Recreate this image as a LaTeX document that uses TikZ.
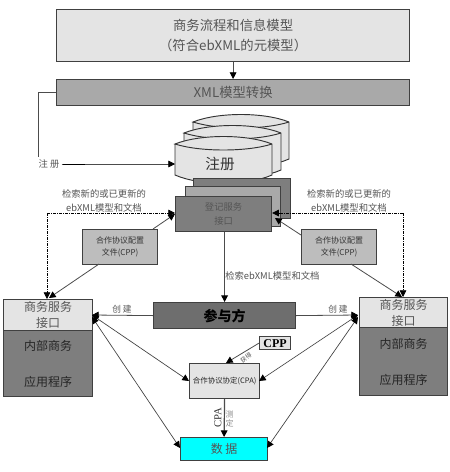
\documentclass[tikz,border=0pt]{standalone}
\usepackage{fontspec}
\setmainfont{Noto Sans CJK SC}
\newfontfamily\latinf{Liberation Serif}
\usetikzlibrary{arrows.meta}
\definecolor{lt}{HTML}{E4E4E4}
\definecolor{md}{HTML}{A9A9A9}
\definecolor{cp}{HTML}{BDBDBD}
\definecolor{dk}{HTML}{7E7E7E}
\definecolor{pa}{HTML}{6E6E6E}
\definecolor{tx}{HTML}{555555}
\definecolor{aq}{HTML}{00FFFF}
\tikzset{
 x=0.75pt,y=-0.75pt,
 tipk/.tip={Triangle[length=5pt,width=5pt,color=black]},
 boxn/.style={draw=black!75,line width=0.9pt,inner sep=0,align=center,text=tx},
 lab/.style={text=tx,inner sep=0,align=center,font=\fontsize{7}{10}\selectfont},
 con/.style={draw=black!70,line width=0.6pt,-tipk},
 dbl/.style={draw=black!75,line width=0.5pt,tipk-tipk},
 dd/.style={draw=black,line width=0.6pt,dash pattern=on 2pt off 1pt on 0.5pt off 1pt},
}
\newcommand{\boxat}[6]{\node[boxn,fill=#5,minimum width=#3*0.75pt,minimum height=#4*0.75pt,anchor=north west] (#6) at (#1,#2) {};}
\newcommand{\cyl}[5]{% x1 x2 ytop ybot name
 \draw[draw=black!80,fill=#5,line width=0.7pt] (#1,#3) -- (#1,#4) .. controls ({#1+25},{#4+11}) and ({#2-25},{#4+11}) .. (#2,#4) -- (#2,#3) .. controls ({#2-25},{#3-10}) and ({#1+25},{#3-10}) .. (#1,#3) .. controls ({#1+25},{#3+8}) and ({#2-25},{#3+8}) .. (#2,#3);}
\begin{document}
\begin{tikzpicture}
\path[use as bounding box,fill=white] (0,0) rectangle (450,472);
% top
\boxat{56}{9}{353}{52}{lt}{top}
\node[lab,font=\fontsize{10}{15}\selectfont] at (top.center) {商务流程和信息模型\\（符合ebXML的元模型）};
\boxat{56}{79}{353}{26}{md}{xml}
\node[lab,font=\fontsize{10}{12}\selectfont] at (xml.center) {XML模型转换};
\draw[con] (top.south) -- (xml.north);
% register
\cyl{193}{289}{122}{159}{lt}
\cyl{184}{281}{133}{170}{lt}
\cyl{175}{272}{144}{175}{lt}
\node[lab,font=\fontsize{11}{12}\selectfont,text=black!80] at (220,164) {注册};
\node[lab] (rl) at (49,164) {注 册};
\coordinate (rk) at (38,157);
\draw[draw=black!70,line width=0.6pt] (xml.west |- 0,92) -- (38,92) -- (rk);
\draw[con] (rl.east) ++(2,0) -- (175,164);
\draw[line width=1.2pt] (63,164.5) -- (85,164.5);
% service
\boxat{193}{178}{97}{40}{dk}{s3}
\boxat{185}{186}{95}{40}{md}{s2}
\boxat{175}{196}{96}{35}{dk}{svc}
\node[lab] at (svc.center) {登记服务\\接口};
% cpp boxes
\boxat{82}{229}{75}{35}{cp}{cl}
\node[lab,font=\fontsize{6}{9}\selectfont,text=black!80] at (cl.center) {合作协议配置\\文件(CPP)};
\boxat{301}{229}{75}{35}{cp}{cr}
\node[lab,font=\fontsize{6}{9}\selectfont,text=black!80] at (cr.center) {合作协议配置\\文件(CPP)};
% BSI
\boxat{3}{299}{89}{31}{lt}{la}
\node[lab,font=\fontsize{9}{12}\selectfont] at (la.center) {商务服务\\接口};
\boxat{3}{330}{89}{66}{dk}{lb}
\node[lab,font=\fontsize{9}{27}\selectfont,text=black!85] at (lb.center) {内部商务\\应用程序};
\boxat{359}{297}{88}{30}{lt}{ra}
\node[lab,font=\fontsize{9}{12}\selectfont] at (ra.center) {商务服务\\接口};
\boxat{359}{327}{88}{68}{dk}{rb}
\node[lab,font=\fontsize{9}{27}\selectfont,text=black!85] at (rb.center) {内部商务\\应用程序};
% participant
\boxat{153}{302}{142}{26}{pa}{pt}
\node[lab,font=\bfseries\fontsize{10.5}{12}\selectfont,text=black] at (pt.center) {参与方};
% CPP small, CPA, data
\boxat{259}{336}{31}{13}{lt}{cs}
\node[font=\latinf\bfseries\fontsize{9}{11}\selectfont,text=black,inner sep=0] at (cs.center) {CPP};
\boxat{189}{363}{70}{35}{lt}{cpa}
\node[lab,font=\fontsize{5.6}{7}\selectfont,text=black!85] at (cpa.center) {合作协议协定(CPA)};
\boxat{180}{437}{87}{23}{aq}{dat}
\node[lab,font=\fontsize{9}{12}\selectfont] at (dat.center) {数 据};
% dashed
\coordinate (dl) at (47,213);
\coordinate (dr) at (403,213);
\draw[dd,-tipk] (dl) -- (svc.west |- dl);
\draw[dd,-tipk] (dl) -- (la.north -| dl);
\draw[dd,-tipk] (dr) -- (svc.east |- dr);
\draw[dd,-tipk] (dr) -- (ra.north -| dr);
% cpp arrows
\draw[con] (153,229) -- (175,214);
\draw[con] (99,264) -- (49,298);
\draw[con] (301,235) -- (275,218);
\draw[con] (351,264) -- (402,297);
% center
\draw[con,line width=0.9pt] (svc.south -| pt.north) -- (pt.north);
\node[lab,anchor=west] at (225,276) {检索ebXML模型和文档};
\draw[con] (pt.west) -- (92,315);
\draw[con] (pt.east) -- (358,315);
\node[lab,font=\fontsize{6.5}{8}\selectfont] at (122,309) {创 建};
\node[lab,font=\fontsize{6.5}{8}\selectfont] at (338,309) {创 建};
\draw[con] (cs.west) -- (226,363);
\node[lab,font=\fontsize{4.5}{5}\selectfont,rotate=35] at (246,358) {获得};
\draw[dbl] (92,315) -- (189,381);
\draw[dbl] (92,317) -- (180,448);
\draw[dbl] (358,315) -- (259,381);
\draw[dbl] (358,317) -- (267,448);
\draw[con,line width=0.9pt] (cpa.south) -- (dat.north);
\node[font=\latinf\fontsize{8}{10}\selectfont,rotate=90,text=black!80,inner sep=0] at (218,418) {CPA};
\node[lab,font=\fontsize{6}{7}\selectfont,text=black!45] at (229.5,419) {测\\定};
% search labels
\node[lab] at (104,201) {检索新的或已更新的\\ebXML模型和文档};
\node[lab] at (349,201) {检索新的或已更新的\\ebXML模型和文档};
\end{tikzpicture}
\end{document}
